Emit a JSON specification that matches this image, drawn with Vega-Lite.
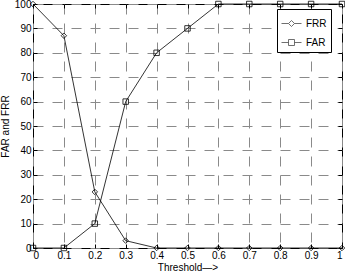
{
  "$schema": "https://vega.github.io/schema/vega-lite/v6.json",
  "autosize": "none",
  "width": 309,
  "height": 244,
  "padding": {"left": 33, "top": 4, "right": 3, "bottom": 24},
  "config": {
    "font": "Liberation Sans",
    "view": {"stroke": "black", "strokeWidth": 1},
    "axis": {
      "domain": false,
      "tickColor": "black",
      "tickSize": -4,
      "labelColor": "black",
      "labelFontSize": 10,
      "titleFontSize": 10,
      "titleFontWeight": "normal",
      "titleColor": "black",
      "gridColor": "#8a8a8a",
      "gridDash": [10, 9],
      "gridWidth": 1
    }
  },
  "data": {
    "values": [
      {"t": 0, "v": 100, "s": "FRR"},
      {"t": 0.1, "v": 87, "s": "FRR"},
      {"t": 0.2, "v": 23, "s": "FRR"},
      {"t": 0.3, "v": 3, "s": "FRR"},
      {"t": 0.4, "v": 0, "s": "FRR"},
      {"t": 0.5, "v": 0, "s": "FRR"},
      {"t": 0.6, "v": 0, "s": "FRR"},
      {"t": 0.7, "v": 0, "s": "FRR"},
      {"t": 0.8, "v": 0, "s": "FRR"},
      {"t": 0.9, "v": 0, "s": "FRR"},
      {"t": 1, "v": 0, "s": "FRR"},
      {"t": 0, "v": 0, "s": "FAR"},
      {"t": 0.1, "v": 0, "s": "FAR"},
      {"t": 0.2, "v": 10, "s": "FAR"},
      {"t": 0.3, "v": 60, "s": "FAR"},
      {"t": 0.4, "v": 80, "s": "FAR"},
      {"t": 0.5, "v": 90, "s": "FAR"},
      {"t": 0.6, "v": 100, "s": "FAR"},
      {"t": 0.7, "v": 100, "s": "FAR"},
      {"t": 0.8, "v": 100, "s": "FAR"},
      {"t": 0.9, "v": 100, "s": "FAR"},
      {"t": 1, "v": 100, "s": "FAR"}
    ]
  },
  "layer": [
    {
      "mark": {"type": "line", "color": "black", "strokeWidth": 0.8},
      "encoding": {
        "x": {"field": "t", "type": "quantitative", "scale": {"domain": [0, 1], "nice": false},
              "axis": {"values": [0,0.1,0.2,0.3,0.4,0.5,0.6,0.7,0.8,0.9,1], "format": "~g", "title": "Threshold—>", "titlePadding": 2, "labelPadding": 6, "grid": true}},
        "y": {"field": "v", "type": "quantitative", "scale": {"domain": [0, 100], "nice": false},
              "axis": {"values": [0,10,20,30,40,50,60,70,80,90,100], "title": "FAR and FRR", "titlePadding": 4, "labelPadding": 6, "grid": true}},
        "detail": {"field": "s"}
      }
    },
    {
      "mark": {"type": "point", "filled": false, "stroke": "black", "strokeWidth": 0.8, "size": 30, "opacity": 1},
      "encoding": {
        "x": {"field": "t", "type": "quantitative", "axis": {"orient": "top", "values": [0,0.1,0.2,0.3,0.4,0.5,0.6,0.7,0.8,0.9,1], "labels": false, "title": null, "grid": false}},
        "y": {"field": "v", "type": "quantitative", "axis": {"orient": "right", "values": [0,10,20,30,40,50,60,70,80,90,100], "labels": false, "title": null, "grid": false}},
        "shape": {"field": "s", "type": "nominal", "scale": {"domain": ["FRR", "FAR"], "range": ["diamond", "square"]}, "legend": null}
      }
    },
    {
      "transform": [{"filter": "false"}],
      "mark": {"type": "point", "filled": false, "stroke": "black", "strokeWidth": 0.8},
      "encoding": {
        "x": {"field": "t", "type": "quantitative", "axis": null},
        "y": {"field": "v", "type": "quantitative", "axis": null},
        "shape": {"field": "s", "type": "nominal",
          "scale": {"domain": ["FRR", "FAR"], "range": ["M-1,0H-0.3M0.3,0H1M-0.3,0L0,-0.3L0.3,0L0,0.3Z", "M-1,0H-0.3M0.3,0H1M-0.3,-0.3H0.3V0.3H-0.3Z"]},
          "legend": {"title": null, "orient": "none", "legendX": 244, "legendY": 5, "symbolSize": 400, "symbolStrokeColor": "black", "symbolFillColor": "transparent", "symbolStrokeWidth": 0.8, "strokeColor": "black", "fillColor": "white", "padding": 4, "labelFontSize": 10, "labelColor": "black", "rowPadding": 3, "labelOffset": 4}
        }
      }
    }
  ],
  "resolve": {"scale": {"shape": "independent"}, "axis": {"x": "independent", "y": "independent"}}
}
